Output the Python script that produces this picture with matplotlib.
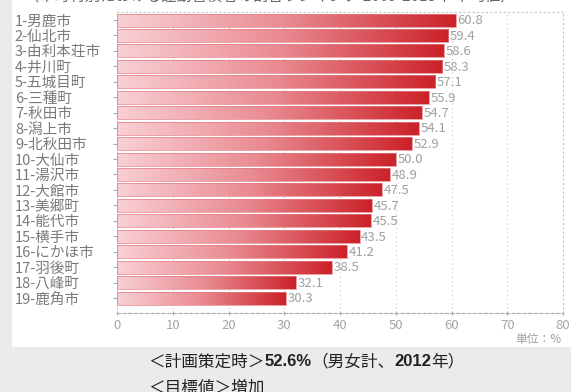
import numpy as np
import matplotlib
matplotlib.use('Agg')
import matplotlib.pyplot as plt
from matplotlib.colors import LinearSegmentedColormap
from matplotlib.patches import Rectangle

plt.rcParams['font.family'] = ['Noto Sans CJK JP', 'DejaVu Sans']

# data
names = ['1-男鹿市', '2-仙北市', '3-由利本荘市', '4-井川町', '5-五城目町', '6-三種町',
         '7-秋田市', '8-潟上市', '9-北秋田市', '10-大仙市', '11-湯沢市', '12-大館市',
         '13-美郷町', '14-能代市', '15-横手市', '16-にかほ市', '17-羽後町', '18-八峰町',
         '19-鹿角市']
values = [60.8, 59.4, 58.6, 58.3, 57.1, 55.9, 54.7, 54.1, 52.9, 50.0, 48.9, 47.5,
          45.7, 45.5, 43.5, 41.2, 38.5, 32.1, 30.3]
xticks = [0, 10, 20, 30, 40, 50, 60, 70, 80]
title = '（市町村別における運動習慣者の割合ランキング 2009-2013年 平均値）'
unit = '単位：%'
note1 = [('＜計画策定時＞', 'normal'), ('52.6%', 'bold'), ('（男女計、', 'normal'),
         ('2012', 'bold'), ('年）', 'normal')]
note2 = '＜目標値＞増加'

W, H = 571, 392
fig = plt.figure(figsize=(W / 100, H / 100), dpi=100)
fig.patch.set_facecolor('#ebebeb')
fig.patches.append(Rectangle((12 / W, 1 - 347 / H), 1, 347 / H, transform=fig.transFigure,
                             facecolor='white', edgecolor='none', zorder=-5))

ax = fig.add_axes([117 / W, 1 - 313 / H, (563 - 117) / W, (313 - 12) / H])
ax.set_facecolor('white')

cmap = LinearSegmentedColormap.from_list('rg', ['#f9d0d4', '#e98a91', '#cc2229'])
grad = np.linspace(0, 1, 256).reshape(1, -1)
h = 0.84
for i, v in enumerate(values):
    ax.imshow(grad, cmap=cmap, aspect='auto', extent=(0, v, i + h / 2, i - h / 2),
              interpolation='bicubic', zorder=2)
    ax.add_patch(Rectangle((0, i - h / 2), v, h, facecolor='none', edgecolor='#e47b82',
                           lw=0.5, zorder=3))
    ax.text(v + 0.3, i + 0.05, f'{v:.1f}', va='center', ha='left', fontsize=9.5,
            color='#a0a0a0', zorder=4)

ax.set_xlim(0, 80)
ax.set_ylim(len(values) - 1 + 0.97, -0.52)
ax.set_xticks(xticks)
ax.set_xticklabels([str(t) for t in xticks], fontsize=9.5, color='#a5a5a5')
ax.set_yticks(range(len(names)))
ax.set_yticklabels(names, fontsize=10.5, color='#7a7a7a', ha='left')
ax.tick_params(axis='y', length=3, color='#aaaaaa', pad=70.5)
ax.tick_params(axis='x', length=3, color='#aaaaaa', direction='inout', pad=3)

for x in xticks[1:]:
    ax.axvline(x, color='#c4c4c4', lw=0.8, ls=(0, (1, 3)), zorder=1)
for s in ['top', 'right', 'left']:
    ax.spines[s].set_color('#c4c4c4')
    ax.spines[s].set_linestyle((0, (1, 3)))
    ax.spines[s].set_linewidth(0.8)
ax.spines['bottom'].set_color('#aaaaaa')
ax.spines['bottom'].set_linestyle((0, (3, 2)))
ax.spines['bottom'].set_linewidth(0.8)

fig.text(561 / W, 1 - 339 / H, unit, ha='right', va='center', fontsize=8.5, color='#a0a0a0')
fig.text(270 / W, 1 + 4 / H, title, ha='center', va='center', fontsize=11, color='#666666')

# note below the chart, mixed weight pieces chained one after another
prev = fig.text(148 / W, 1 - 362 / H, note1[0][0], ha='left', va='center', fontsize=12,
                color='#222222')
for txt, wt in note1[1:]:
    kw = dict(fontsize=12, color='#222222', fontweight=wt)
    if wt == 'bold':
        kw['family'] = ['Liberation Sans', 'Noto Sans CJK JP']
    prev = ax.annotate(txt, xy=(1, 0.5), xycoords=prev, va='center', ha='left',
                       annotation_clip=False, **kw)

fig.text(148 / W, 1 - 388 / H, note2, ha='left', va='center', fontsize=12, color='#222222')

fig.savefig('out.png', dpi=100, facecolor=fig.get_facecolor())
